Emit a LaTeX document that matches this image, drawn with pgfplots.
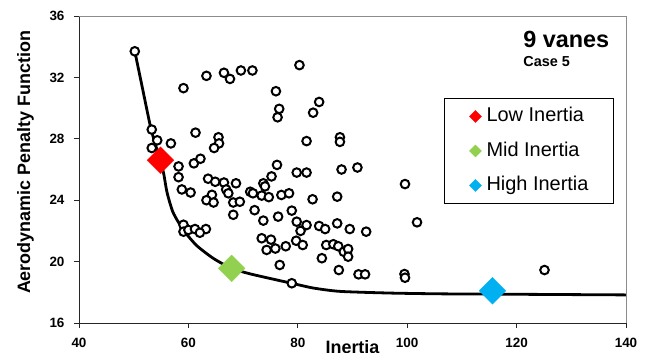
\documentclass[border=0pt]{standalone}
\usepackage{pgfplots}
\pgfplotsset{compat=1.18}
\usepackage{fontspec}
\setmainfont{Liberation Sans}
\usetikzlibrary{calc}
\definecolor{lowred}{HTML}{FF0000}
\definecolor{midgreen}{HTML}{92D050}
\definecolor{highblue}{HTML}{00B0F0}
\begin{document}
\begin{tikzpicture}
\begin{axis}[
  width=547bp, height=307bp, scale only axis,
  xmin=40, xmax=140, ymin=16, ymax=36,
  xtick={40,60,...,140}, ytick={16,20,...,36},
  axis lines=left, axis line style={-, line width=0.8bp, black!85},
  tick align=outside, major tick length=5bp,
  tick style={black!85, line width=0.8bp},
  ticklabel style={font=\bfseries\fontsize{13.5}{14}\selectfont},
  xticklabel style={yshift=-7bp},
  yticklabel style={xshift=-6bp},
  /pgf/number format/assume math mode=true,
  xlabel={Inertia}, ylabel={Aerodynamic Penalty Function},
  label style={font=\bfseries\fontsize{18}{20}\selectfont},
  xlabel style={at={(axis description cs:0.5,0)}, anchor=base, yshift=-30bp},
  ylabel style={at={(axis description cs:-0.0978,0.523)}, anchor=center},
  legend style={at={(rel axis cs:0.978,0.733)}, anchor=north east, draw=black, line width=1bp,
    inner xsep=25bp, inner ysep=8.5bp, row sep=15.5bp, column sep=5bp,
    nodes={inner sep=0pt, text height=15bp, text depth=4bp},
    font=\fontsize{20}{22}\selectfont},
  legend cell align=left,
  legend image code/.code={\path[draw=none, fill=none] (-6bp,-6bp) rectangle (6bp,6bp);
    \draw[#1, mark size=4.3bp] plot coordinates {(0bp,0bp)};},
]
\addplot[black, line width=2.8bp, smooth, tension=0.4, forget plot] coordinates {
(50.2,33.7)(51.6,31.3)(53.0,28.9)(53.9,27.7)(54.9,26.6)(55.5,25.7)(56.1,24.5)(57.2,23.2)
(59.1,22.05)(61.5,21.05)(64.6,20.2)(67.9,19.56)(71.3,19.2)(76.7,18.76)(78.9,18.59)
(82.8,18.28)(87.7,18.06)(96.9,17.95)(106,17.9)(115.6,17.88)(140,17.83)};
\addplot[only marks, mark=*, mark size=4.3bp, mark options={fill=white, draw=black, line width=2bp}, forget plot] coordinates {
(50.2,33.7)(59.1,31.3)(63.3,32.1)(66.5,32.3)(67.6,31.9)(69.6,32.45)(71.7,32.45)(76.0,31.1)
(76.6,29.95)(76.3,29.4)(80.3,32.8)(83.9,30.4)(82.8,29.7)(81.6,27.85)(87.7,28.1)(87.7,27.8)
(53.3,28.6)(54.3,27.9)(56.8,27.7)(53.3,27.4)(61.3,28.4)(65.5,28.1)(65.6,27.7)(64.7,27.4)
(58.2,26.2)(61.0,26.4)(62.2,26.7)(76.2,26.3)(75.2,25.55)(58.2,25.5)(58.8,24.7)(60.4,24.5)
(63.6,25.4)(64.9,25.2)(66.5,25.15)(68.7,25.1)(66.9,24.7)(67.3,24.45)(64.3,24.35)(63.3,24.0)
(64.6,23.85)(68.2,23.85)(69.4,23.9)(68.2,23.05)(71.3,24.55)(71.8,24.45)(73.7,25.1)(74.0,24.9)
(73.4,24.3)(74.7,24.2)(72.1,23.35)(73.7,22.67)(76.4,22.93)(59.1,22.4)(59.1,21.95)(60.0,22.06)
(61.2,22.12)(63.2,22.12)(62.1,21.88)(73.4,21.52)(75.1,21.43)(74.3,20.76)(75.9,20.85)(76.7,19.78)
(77.0,24.34)(78.4,24.45)(82.7,24.06)(87.2,24.23)(79.8,25.8)(81.6,25.8)(88.0,26.0)(90.9,26.13)
(99.6,25.05)(78.9,23.32)(79.8,22.6)(80.5,22.0)(81.6,22.38)(83.9,22.32)(85.0,22.12)(87.2,22.49)
(89.5,22.12)(92.5,21.95)(101.8,22.56)(77.8,21.0)(79.7,21.36)(80.9,21.08)(85.2,21.08)(86.5,21.13)
(87.4,21.0)(88.4,20.64)(89.2,20.82)(89.2,20.32)(84.4,20.22)(87.5,19.45)(91.1,19.17)(92.3,19.17)
(99.5,19.19)(99.6,18.95)(78.9,18.59)(125.1,19.45)};
\addplot[only marks, mark=square*, mark size=9.5bp, mark options={rotate=45, fill=lowred, draw=lowred, line width=0.2bp}] coordinates {(54.9,26.6)};
\addlegendentry{Low Inertia}
\addplot[only marks, mark=square*, mark size=9.5bp, mark options={rotate=45, fill=midgreen, draw=midgreen, line width=0.2bp}] coordinates {(67.9,19.56)};
\addlegendentry{Mid Inertia}
\addplot[only marks, mark=square*, mark size=9.5bp, mark options={rotate=45, fill=highblue, draw=highblue, line width=0.2bp}] coordinates {(115.6,18.1)};
\addlegendentry{High Inertia}
\node[anchor=base west, font=\bfseries\fontsize{23.5}{25}\selectfont, inner sep=0pt] at (axis cs:121.2,33.92) {9 vanes};
\node[anchor=base west, font=\bfseries\fontsize{14.5}{16}\selectfont, inner sep=0pt] at (axis cs:121.2,32.68) {Case 5};
\end{axis}
\draw[black!45, line width=0.8bp] (current axis.north west) -- (current axis.north east) -- (current axis.south east);
\pgfresetboundingbox
\path[use as bounding box] ($(current axis.south west)+(-79bp,-30bp)$) rectangle ($(current axis.north east)+(26bp,16bp)$);
\end{tikzpicture}
\end{document}
